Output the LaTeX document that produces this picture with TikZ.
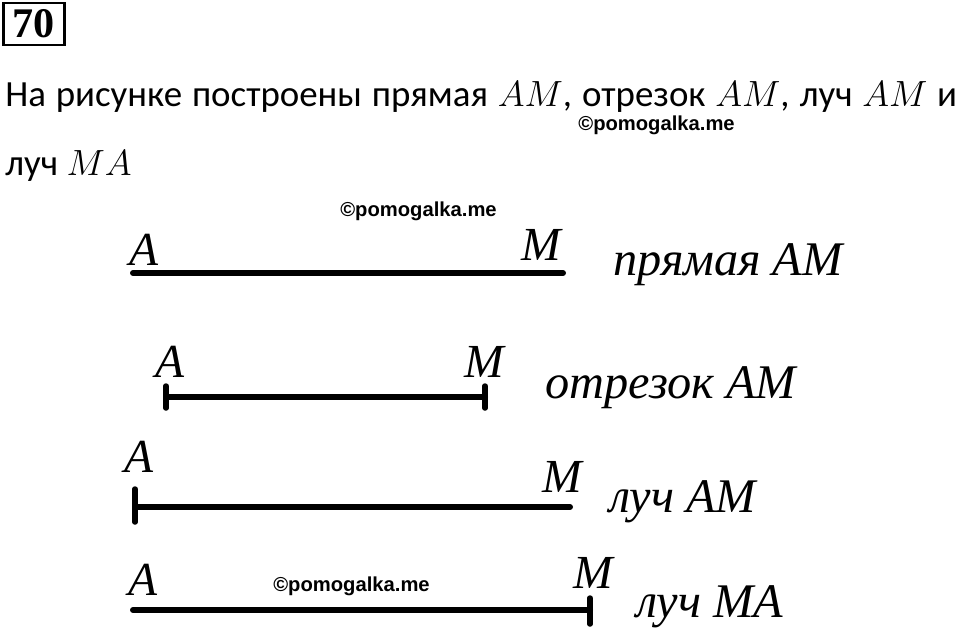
\documentclass[tikz,border=0pt]{standalone}
\usepackage{fontspec}
\setmainfont{Carlito}
\newfontfamily\labelfont{Liberation Serif}
\newfontfamily\markfont{Liberation Sans}
\tikzset{
  ptlabel/.style={font=\labelfont\itshape\fontsize{27}{30}\selectfont, anchor=base west, inner sep=0pt},
  namelabel/.style={font=\labelfont\itshape\fontsize{27.5}{30}\selectfont, anchor=base west, inner sep=0pt},
  bodytext/.style={font=\fontsize{21}{25}\selectfont, anchor=base west, inner sep=0pt},
  wmark/.style={font=\markfont\bfseries\fontsize{11.5}{13}\selectfont, anchor=base west, inner sep=0pt},
  thickline/.style={line width=0.12cm, line cap=round},
  endtick/.style={line width=0.11cm, line cap=round},
}
\begin{document}
\begin{tikzpicture}[x=0.02cm, y=-0.02cm]
                        \useasboundingbox (0,0) rectangle (960,630);

                        % Marking task number
                        \node [draw, line width=0.055cm, inner sep=0pt, minimum width=1.22cm, minimum height=0.84cm,
                               font=\labelfont\bfseries\fontsize{24}{26}\selectfont] (num) at (34,24) {70};%

                        % Marking task text (first line spread to full width)
                        \node [bodytext] (textA) at (5,106)
                          {\makebox[19.04cm][s]{На рисунке построены прямая $AM$, отрезок $AM$, луч $AM$ и}};%
                        \node [bodytext] (textB) at (5,175) {луч $MA$};%

                        % Marking watermarks
                        \node [wmark] (wmA) at (578,130) {©pomogalka.me};%
                        \node [wmark] (wmB) at (340,216) {©pomogalka.me};%
                        \node [wmark] (wmC) at (273,591) {©pomogalka.me};%

                        % Drawing line A M
                        \coordinate (A1) at (133,273);%
                        \coordinate (M1) at (563,273);%
                        \draw [thickline] (A1) -- (M1);%
                        \node [ptlabel] (lA1) at (129,265) {A};%
                        \node [ptlabel] (lM1) at (521,260) {M};%
                        \node [namelabel] (name1) at (613,275) {прямая AM};%

                        % Drawing segment A M
                        \coordinate (A2) at (166,397);%
                        \coordinate (M2) at (485,397);%
                        \draw [thickline] (A2) -- (M2);%
                        \draw [endtick] (A2) ++(0,-11) -- ++(0,22);%
                        \draw [endtick] (M2) ++(0,-11) -- ++(0,22);%
                        \node [ptlabel] (lA2) at (155,377) {A};%
                        \node [ptlabel] (lM2) at (464,377) {M};%
                        \node [namelabel] (name2) at (545,398) {отрезок AM};%

                        % Drawing ray A M
                        \coordinate (A3) at (135,507);%
                        \coordinate (M3) at (570,507);%
                        \draw [thickline] (A3) -- (M3);%
                        \draw [endtick] (A3) ++(0,-18) -- ++(0,33);%
                        \node [ptlabel] (lA3) at (124,472) {A};%
                        \node [ptlabel] (lM3) at (542,492) {M};%
                        \node [namelabel] (name3) at (609,512) {луч AM};%

                        % Drawing ray M A
                        \coordinate (A4) at (133,610);%
                        \coordinate (M4) at (590,610);%
                        \draw [thickline] (A4) -- (M4);%
                        \draw [endtick] (M4) ++(0,-12) -- ++(0,26);%
                        \node [ptlabel] (lA4) at (128,595) {A};%
                        \node [ptlabel] (lM4) at (573,588) {M};%
                        \node [namelabel] (name4) at (636,617) {луч MA};%
\end{tikzpicture}
\end{document}
